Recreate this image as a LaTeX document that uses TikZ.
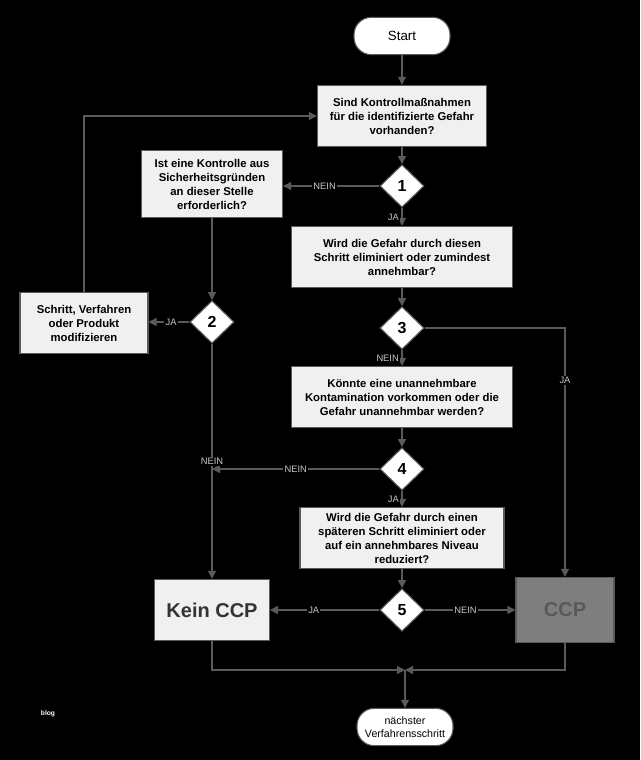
\documentclass[tikz,border=0pt]{standalone}
\usepackage{fontspec}
\setmainfont{Liberation Sans}
\usetikzlibrary{shapes.geometric,arrows.meta,positioning}
\definecolor{boxfill}{HTML}{F0F0F0}
\definecolor{edge}{HTML}{5A5A5A}
\definecolor{lbl}{HTML}{C8C8C8}
\definecolor{ccpfill}{HTML}{7E7E7E}
\begin{document}
\begin{tikzpicture}[
	x=0.75pt, y=-0.75pt,
	cell/.style={
		rectangle,
		draw=edge,
		thick,
		fill=boxfill,
		align=center,
		inner sep=0pt,
		minimum height=46pt,
		font=\fontsize{8.5}{10.5}\selectfont\bfseries,
	},
	choice/.style={
		diamond,
		draw=edge,
		thick,
		fill=white,
		minimum width=33pt,
		minimum height=32pt,
		inner sep=0pt,
		font=\fontsize{12}{14}\selectfont\bfseries,
	},
	term/.style={
		rectangle,
		rounded corners=13pt,
		draw=edge,
		thick,
		fill=white,
		align=center,
		inner sep=0pt,
		font=\fontsize{8}{10}\selectfont,
	},
	answer/.style={% labels on the connectors
		fill=black,
		text=lbl,
		inner sep=1pt,
		font=\fontsize{7}{8}\selectfont,
	},
	ArrowC1/.style={
		draw=edge,
		thick,
		-{Triangle[length=6pt,width=6pt]},
	},
]
	\fill [black] (0,0) rectangle (640,760);

	\node [term, minimum width=72pt, minimum height=28pt] (start) at (402,36) {\fontsize{10}{12}\selectfont Start};
	\node [cell, minimum width=127pt] (q1) at (402,116) {Sind Kontrollmaßnahmen\\für die identifizierte Gefahr\\vorhanden?};
	\node [choice] (d1) at (402,186) {1};
	\node [cell, minimum width=106pt, minimum height=50pt] (safe) at (212,184) {Ist eine Kontrolle aus\\Sicherheitsgründen\\an dieser Stelle\\erforderlich?};
	\node [cell, minimum width=166pt] (q2) at (402,257) {Wird die Gefahr durch diesen\\Schritt eliminiert oder zumindest\\annehmbar?};
	\node [choice] (d3) at (402,328) {3};
	\node [choice] (d2) at (212,322) {2};
	\node [cell, minimum width=96pt] (modify) at (84,323) {Schritt, Verfahren\\oder Produkt\\modifizieren};
	\node [cell, minimum width=166pt] (q3) at (402,397) {Könnte eine unannehmbare\\Kontamination vorkommen oder die\\Gefahr unannehmbar werden?};
	\node [choice] (d4) at (402,469) {4};
	\node [cell, minimum width=153pt] (q4) at (402,538) {Wird die Gefahr durch einen\\späteren Schritt eliminiert oder\\auf ein annehmbares Niveau\\reduziert?};
	\node [choice] (d5) at (402,610) {5};
	\node [cell, minimum width=86pt, font=\fontsize{15}{18}\selectfont\bfseries, text=black!80] (noccp) at (212,610) {Kein CCP};
	\node [cell, fill=ccpfill, minimum width=73.5pt, minimum height=49pt, font=\fontsize{15}{18}\selectfont\bfseries, text=black!65] (ccp) at (565,610) {CCP};
	\node [term, minimum width=72pt, minimum height=28pt] (next) at (405,727) {nächster\\Verfahrensschritt};
	\node [text=white, font=\fontsize{5}{6}\selectfont\bfseries] (blog) at (48,714) {blog};

	\coordinate (loopA) at (84,116);
	\coordinate (join2) at (212,469);
	\coordinate (turn3) at (565,328);
	\coordinate (merge) at (405,670);

	\draw [ArrowC1] (start) -- (q1);
	\draw [ArrowC1] (q1) -- (d1);
	\draw [ArrowC1] (d1) -- node[answer, pos=0.57]{NEIN} (d1 -| safe.east);
	\draw [ArrowC1] (d1) -- node[answer, left=1pt, pos=0.5]{JA} (q2);
	\draw [ArrowC1] (q2) -- (d3);
	\draw [ArrowC1] (safe) -- (d2);
	\draw [ArrowC1] (d2) -- node[answer, pos=0.45]{JA} (d2 -| modify.east);
	\draw [ArrowC1] (modify) |- (q1.west |- loopA);
	\draw [ArrowC1] (d3) -- node[answer, left=1pt, pos=0.55]{NEIN} (q3);
	\draw [ArrowC1] (d3) -- (turn3) -- node[answer, pos=0.21]{JA} (ccp);
	\draw [ArrowC1] (q3) -- (d4);
	\draw [ArrowC1] (d4) -- node[answer, pos=0.5]{NEIN} (join2);
	\draw [ArrowC1] (d2) -- node[answer, pos=0.5]{NEIN} (noccp);
	\draw [ArrowC1] (d4) -- node[answer, left=1pt, pos=0.5]{JA} (q4);
	\draw [ArrowC1] (q4) -- (d5);
	\draw [ArrowC1] (d5) -- node[answer, pos=0.6]{JA} (noccp);
	\draw [ArrowC1] (d5) -- node[answer, pos=0.45]{NEIN} (ccp);
	\draw [ArrowC1] (noccp) |- (merge);
	\draw [ArrowC1] (ccp) |- (merge);
	\draw [ArrowC1] (merge) -- (next);
\end{tikzpicture}
\end{document}
